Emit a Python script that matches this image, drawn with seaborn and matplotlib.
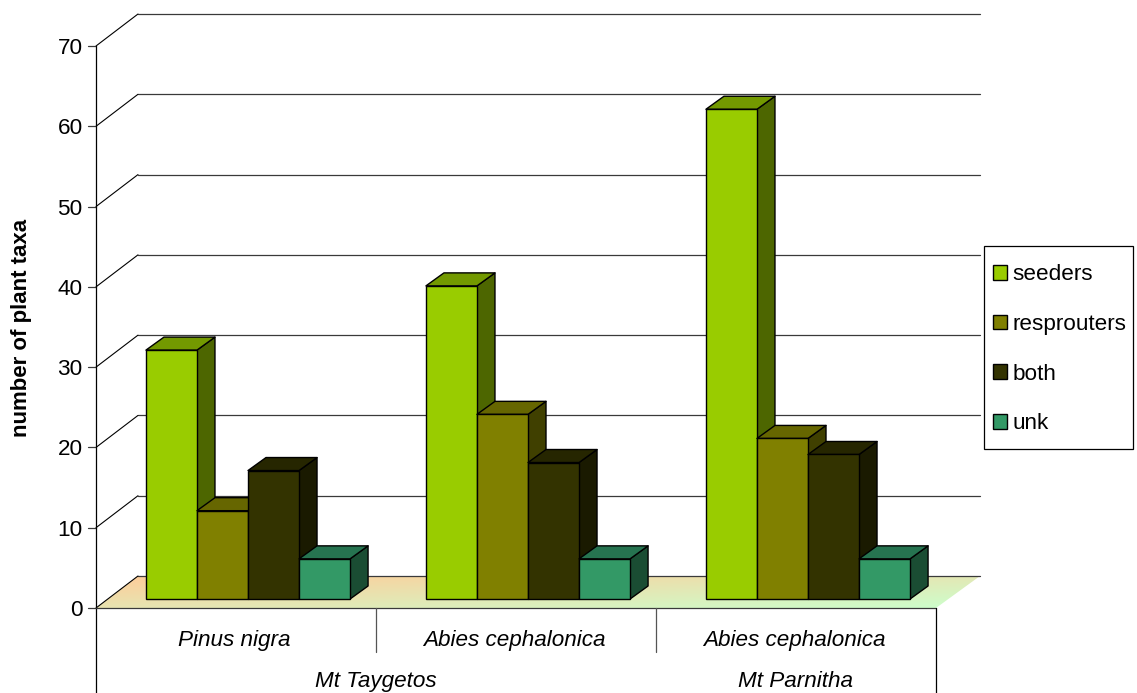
import numpy as np
import pandas as pd
import matplotlib
matplotlib.use("Agg")
import matplotlib.pyplot as plt
from matplotlib.patches import Polygon, Rectangle
from matplotlib.transforms import Affine2D
import seaborn as sns

# Plant taxa per regeneration strategy in each forest stand
stands = ["Pinus nigra", "Abies cephalonica (Taygetos)", "Abies cephalonica (Parnitha)"]
stand_labels = ["Pinus nigra", "Abies cephalonica", "Abies cephalonica"]
strategies = ["seeders", "resprouters", "both", "unk"]
seeders = [31, 39, 61]
resprouters = [11, 23, 20]
both = [16, 17, 18]
unk = [5, 5, 5]
y_ticks = [0, 10, 20, 30, 40, 50, 60, 70]

front_colors = ["#99CC00", "#808000", "#333300", "#339966"]
top_colors = ["#739900", "#666600", "#262600", "#267350"]
side_colors = ["#4D6600", "#404000", "#1A1A00", "#1A4D33"]

df = pd.DataFrame({
    "stand": stands * 4,
    "strategy": np.repeat(strategies, 3),
    "taxa": seeders + resprouters + both + unk,
})

W, H = 1137, 693
FS = 16.2
LINE = "#3A3A3A"
sns.set_style("white")
plt.rcParams["font.family"] = ["Liberation Sans", "DejaVu Sans"]
plt.rcParams["text.color"] = "black"
plt.rcParams["axes.labelcolor"] = "black"
plt.rcParams["xtick.color"] = "black"
plt.rcParams["ytick.color"] = "black"

fig = plt.figure(figsize=(W / 100, H / 100), dpi=100)
ax = fig.add_axes([96 / W, (H - 608) / H, 840 / W, 562 / H])

sns.barplot(data=df, x="stand", y="taxa", hue="strategy", order=stands,
            hue_order=strategies, palette=front_colors, width=0.729, gap=0,
            saturation=1, edgecolor="black", linewidth=1, ax=ax, zorder=5)
ax.set_xlim(-0.5, 2.5)
ax.set_ylim(0, 70)
for s in ["top", "right", "bottom", "left"]:
    ax.spines[s].set_visible(False)

# Screen-space shifts that give the chart its oblique depth
wall = ax.transData + Affine2D().translate(42, 32)
front = ax.transData + Affine2D().translate(12, 9)
pixels = Affine2D()

# Floor with a corner-to-corner gradient
floor_path = Polygon([(96, H - 608), (936, H - 608), (980, H - 576), (138, H - 576)],
                     transform=pixels, facecolor="none", edgecolor="none")
fig.add_artist(floor_path)
u, v = np.meshgrid(np.linspace(0, 1, 256), np.linspace(0, 1, 32))
t = np.clip(0.55 * u + 0.45 * v, 0, 1)[..., None]
c0 = np.array(matplotlib.colors.to_rgb("#FFCC99"))
c1 = np.array(matplotlib.colors.to_rgb("#CCFFCC"))
grad = c0 * (1 - t) + c1 * t
im = ax.imshow(grad, extent=(96, 980, H - 608, H - 576), origin="upper",
               transform=pixels, aspect="auto", zorder=0)
im.set_clip_box(fig.bbox)
im.set_clip_path(floor_path)
ax.set_xlim(-0.5, 2.5)
ax.set_ylim(0, 70)

# Back wall grid and its return to the axis
for val in y_ticks:
    y0 = H - 608 + val * 562 / 70
    ax.plot([-0.5, 2.5 + 2 / 280], [val, val], transform=wall, color=LINE,
            lw=0.9, clip_on=False, zorder=1)
    ax.plot([96, 138], [y0, y0 + 32], transform=pixels, color="black",
            lw=0.8, clip_on=False, zorder=1)
    ax.plot([88, 96], [y0, y0], transform=pixels, color=LINE,
            lw=0.9, clip_on=False, zorder=1)

# Top and side faces built from each drawn bar
bars = [p for p in ax.patches if isinstance(p, Rectangle) and p.get_height() > 0]
for i, bar in enumerate(bars):
    s_idx = i // 3
    x0, w, h = bar.get_x(), bar.get_width(), bar.get_height()
    bar.set_transform(front)
    bar.set_clip_on(False)
    z = 5 + 3 * (i % 3) + s_idx * 0.3 + 0.2
    bar.set_zorder(z)
    dx, dy = 18 * 3 / 840, 13 * 70 / 562
    side = Polygon([(x0 + w, 0), (x0 + w + dx, dy), (x0 + w + dx, h + dy), (x0 + w, h)],
                   facecolor=side_colors[s_idx], edgecolor="black", lw=1,
                   transform=front, clip_on=False, zorder=z - 0.1, joinstyle="round")
    top = Polygon([(x0, h), (x0 + w, h), (x0 + w + dx, h + dy), (x0 + dx, h + dy)],
                  facecolor=top_colors[s_idx], edgecolor="black", lw=1,
                  transform=front, clip_on=False, zorder=z - 0.1, joinstyle="round")
    ax.add_patch(side)
    ax.add_patch(top)

# Axis lines and category dividers
ax.plot([96, 96], [0, H - 46], transform=pixels, color="black", lw=0.9, clip_on=False, zorder=30)
ax.plot([96, 936], [H - 608] * 2, transform=pixels, color=LINE, lw=0.9, clip_on=False, zorder=30)
ax.plot([936, 936], [0, H - 608], transform=pixels, color="black", lw=0.9, clip_on=False, zorder=30)
for x_px in [376, 656]:
    ax.plot([x_px, x_px], [H - 652, H - 608], transform=pixels, color="#555555", lw=0.9,
            clip_on=False, zorder=30)

ax.set_yticks(y_ticks)
ax.tick_params(axis="y", length=0, pad=9.5, labelsize=FS)
ax.set_xticks([-0.005, 0.994, 1.995])
ax.set_xticklabels(stand_labels, fontstyle="italic", fontsize=FS)
ax.tick_params(axis="x", length=0, pad=15.5)
ax.set_xlabel("")
ax.set_ylabel("number of plant taxa", fontweight="bold", fontsize=16)
ax.yaxis.set_label_coords((32 - 96) / 840, (608 - 328) / 562)
ax.text(0.5, -73.5 / 562 * 70, "Mt Taygetos", ha="center", va="center", style="italic",
        fontsize=FS, clip_on=False)
ax.text(2, -73.5 / 562 * 70, "Mt Parnitha", ha="center", va="center", style="italic",
        fontsize=FS, clip_on=False)

# Legend entries sit on a separately sized white panel
ax.add_patch(Rectangle((983.5, H - 448.5), 149, 203, transform=pixels, facecolor="white",
                       edgecolor="black", lw=0.9, clip_on=False, zorder=40))
sns.move_legend(ax, "upper left", bbox_to_anchor=(992.7 / W, (H - 264.5) / H),
                bbox_transform=fig.transFigure, title=None, frameon=False,
                fontsize=FS, handlelength=0.62, handleheight=0.62, handletextpad=0.27,
                labelspacing=1.27, borderaxespad=0, borderpad=0)
ax.get_legend().set_zorder(41)

fig.savefig("out.png", dpi=100)
